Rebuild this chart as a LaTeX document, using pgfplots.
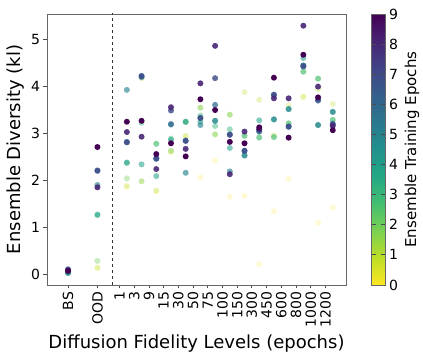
\documentclass[border=0pt]{standalone}
\usepackage{fontspec}
\setmainfont{DejaVu Sans}
\usepackage{pgfplots}
\usepackage{pgfplotstable}
\pgfplotsset{compat=1.18}
\usetikzlibrary{calc}

% viridis, reversed (yellow = 0, purple = 9)
\pgfplotsset{colormap={viridisr}{rgb255=(253,231,37) rgb255=(189,223,38) rgb255=(122,209,81)
  rgb255=(68,191,112) rgb255=(34,168,132) rgb255=(33,145,140) rgb255=(42,120,142)
  rgb255=(53,95,141) rgb255=(65,68,135) rgb255=(72,36,117) rgb255=(68,1,84)}}

% colour of each epoch, sampled from the same map
\definecolor{c0}{RGB}{253,231,37}
\definecolor{c1}{RGB}{181,222,43}
\definecolor{c2}{RGB}{110,206,88}
\definecolor{c3}{RGB}{53,183,121}
\definecolor{c4}{RGB}{31,158,137}
\definecolor{c5}{RGB}{38,130,142}
\definecolor{c6}{RGB}{49,104,142}
\definecolor{c7}{RGB}{62,74,137}
\definecolor{c8}{RGB}{72,38,119}
\definecolor{c9}{RGB}{68,1,84}

% one row per fidelity level, one column per ensemble training epoch
\pgfplotstableread{
x  e0   e1   e2   e3   e4   e5   e6   e7   e8   e9
0  0.04 0.04 0.04 0.04 0.03 0.02 0.09 0.10 0.06 0.07
2  0.12 0.14 0.28 1.27 1.26 1.90 2.20 2.21 1.85 2.71
4  1.86 1.88 2.04 2.37 2.38 3.93 2.82 2.81 3.03 3.25
5  1.98 4.18 1.98 3.23 2.34 4.20 4.23 4.22 2.93 3.27
6  1.76 1.78 2.78 2.78 2.09 2.46 2.46 2.47 2.24 2.56
7  2.60 2.62 2.63 2.89 2.86 3.19 3.20 3.49 3.56 2.79
8  2.93 2.95 3.24 3.25 3.25 2.16 2.85 2.84 2.67 2.51
9  2.06 3.55 3.55 3.38 3.25 3.18 3.33 3.33 4.07 3.73
10 2.42 2.98 2.98 3.16 3.27 3.27 3.61 4.18 4.87 3.50
11 1.65 3.40 3.40 3.09 2.69 2.19 2.98 2.97 2.13 2.82
12 1.67 3.88 2.95 2.95 2.53 2.53 2.63 2.63 3.04 2.79
13 0.21 3.72 2.92 2.91 3.28 3.05 3.04 3.08 3.09 3.13
14 1.34 2.96 2.93 2.92 3.30 3.30 3.83 3.82 3.75 4.19
15 2.03 3.60 3.22 3.21 3.52 3.52 3.14 3.15 3.75 2.91
16 3.78 3.78 4.32 4.32 4.61 4.45 4.45 4.43 5.30 4.68
17 1.09 3.94 4.17 4.17 3.18 3.18 3.70 3.72 4.00 3.77
18 1.42 3.63 3.29 3.29 3.46 3.46 3.21 3.19 3.16 3.07
}\divtab

\pgfplotsset{
  ep/.style 2 args={only marks, mark=*, mark size=3pt,
    mark options={draw opacity=0, fill=#1, fill opacity=#2}},
}

\begin{document}
\begin{tikzpicture}
\begin{axis}[
  name=main,
  width=299pt, height=271pt, scale only axis,
  xmin=-1.43, xmax=18.9, ymin=-0.235, ymax=5.55,
  xtick={0,2,3.5,4.5,5.5,6.5,7.5,8.5,9.5,10.5,11.5,12.5,13.5,14.5,15.5,16.5,17.5},
  xticklabels={BS,OOD,1,3,9,15,30,50,75,100,150,300,450,600,800,1000,1200},
  ytick={0,1,2,3,4,5},
  x tick label style={rotate=90, anchor=east, font=\fontsize{14}{14}\selectfont},
  y tick label style={font=\fontsize{14}{14}\selectfont},
  /pgf/number format/assume math mode=true,
  tick align=outside, tick pos=left, major tick length=3.5pt,
  axis line style={black!60, line width=0.8pt},
  every tick/.style={black!70, line width=0.8pt},
  xlabel={Diffusion Fidelity Levels (epochs)},
  ylabel={Ensemble Diversity (kl)},
  label style={font=\fontsize{18}{18}\selectfont},
  colormap name=viridisr,
  point meta min=0, point meta max=9,
  colorbar,
  colorbar style={
    at={(parent axis.north east)}, anchor=north west, xshift=17pt,
    width=14pt,
    ytick={0,1,2,3,4,5,6,7,8,9},
    yticklabel style={font=\fontsize{14}{14}\selectfont},
    /pgf/number format/assume math mode=true,
    axis line style={black!60, line width=0.8pt},
    ylabel={Ensemble Training Epochs},
    ylabel style={font=\fontsize{15}{15}\selectfont},
  },
]
\addplot[black!80, dashed, line width=0.7pt] coordinates {(3,-1) (3,7)};
\addplot[ep={c0}{0.20}] table[x=x, y=e0] {\divtab};
\addplot[ep={c1}{0.29}] table[x=x, y=e1] {\divtab};
\addplot[ep={c2}{0.38}] table[x=x, y=e2] {\divtab};
\addplot[ep={c3}{0.47}] table[x=x, y=e3] {\divtab};
\addplot[ep={c4}{0.56}] table[x=x, y=e4] {\divtab};
\addplot[ep={c5}{0.64}] table[x=x, y=e5] {\divtab};
\addplot[ep={c6}{0.73}] table[x=x, y=e6] {\divtab};
\addplot[ep={c7}{0.82}] table[x=x, y=e7] {\divtab};
\addplot[ep={c8}{0.91}] table[x=x, y=e8] {\divtab};
\addplot[ep={c9}{1.00}] table[x=x, y=e9] {\divtab};
\end{axis}
\path ($(main.south west)+(-47pt,-78pt)$) rectangle ($(main.north east)+(77pt,14pt)$);
\end{tikzpicture}
\end{document}
